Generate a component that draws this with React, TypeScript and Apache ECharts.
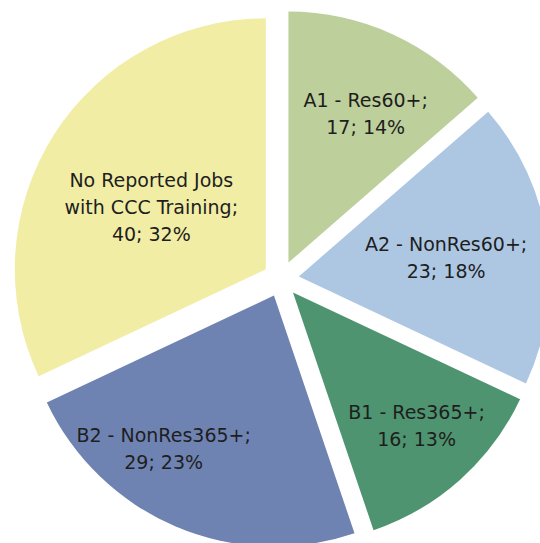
import React, { useEffect, useRef } from "react";
import * as echarts from "echarts";

const categories = [
  "A1 - Res60+",
  "A2 - NonRes60+",
  "B1 - Res365+",
  "B2 - NonRes365+",
  "No Reported Jobs with CCC Training",
];
const values = [17, 23, 16, 29, 40];
const colors = ["#bdcf9a", "#adc7e3", "#4f9470", "#6f83b2", "#f1eda5"];
// label nudges (px) relative to ECharts' default inside position
const labelNudge = [
  [24, -32],
  [20, -1],
  [38, 37],
  [-60, 35],
  [-6, 6],
];

export default function App() {
  const ref = useRef<HTMLDivElement>(null);
  useEffect(() => {
    if (!ref.current) return;
    const chart = echarts.init(ref.current, undefined, { renderer: "svg" });
    chart.setOption({
      animation: false,
      backgroundColor: "#ffffff",
      series: [
        {
          type: "pie",
          center: [281, 279],
          radius: 251,
          startAngle: 90,
          clockwise: true,
          selectedMode: "multiple",
          selectedOffset: 18,
          percentPrecision: 0,
          avoidLabelOverlap: false,
          emphasis: { disabled: true },
          itemStyle: { borderWidth: 0 },
          label: {
            show: true,
            position: "inside",
            color: "#1e1e1e",
            fontFamily: "DejaVu Sans",
            fontSize: 19,
            lineHeight: 27,
            align: "center",
            formatter: (p: any) =>
              `${String(p.name).replace(" with ", "\nwith ")};\n${p.value}; ${p.percent}%`,
          },
          labelLine: { show: false },
          labelLayout: (params: any) => {
            const n = labelNudge[params.dataIndex] || [0, 0];
            return { dx: n[0], dy: n[1] };
          },
          data: categories.map((name, i) => ({
            name,
            value: values[i],
            selected: true,
            itemStyle: { color: colors[i] },
            select: { itemStyle: { color: colors[i], borderWidth: 0 } },
          })),
        },
      ],
    });
    return () => chart.dispose();
  }, []);
  return (
    <div
      ref={ref}
      style={{ position: "absolute", left: 0, top: 0, width: 540, height: 543 }}
    />
  );
}
